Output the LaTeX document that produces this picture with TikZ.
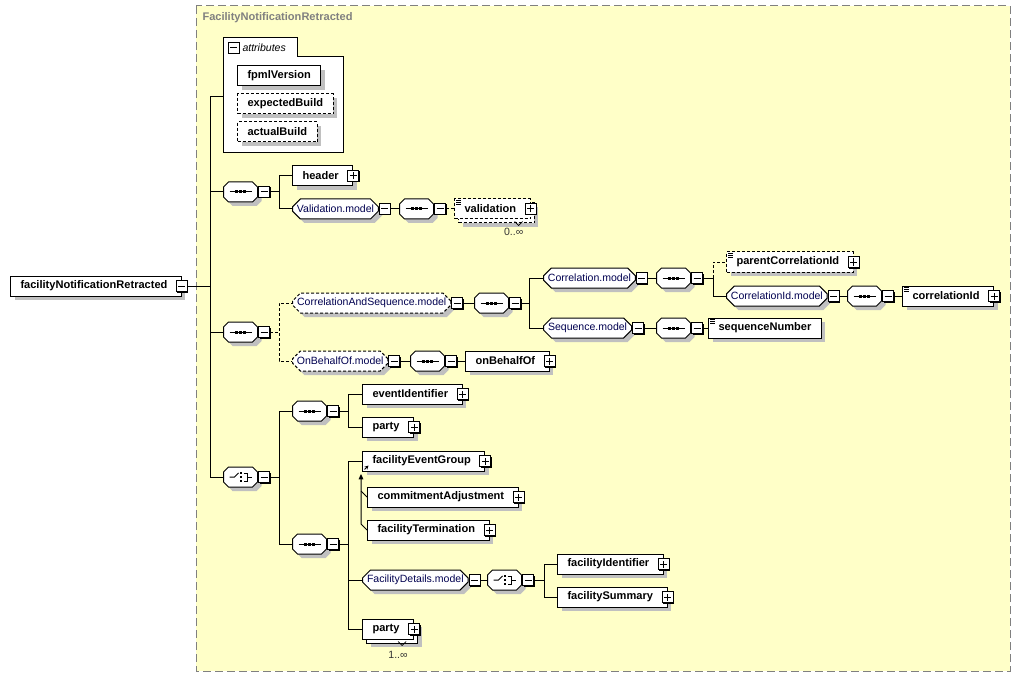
\documentclass[tikz,border=0pt]{standalone}
\usepackage{fontspec}
\setmainfont{Liberation Sans}
\usetikzlibrary{shapes.misc,shadows,arrows.meta}

\definecolor{paneyellow}{RGB}{255,255,200}
\definecolor{framegray}{RGB}{128,128,128}
\definecolor{modelblue}{RGB}{0,0,80}
\definecolor{shadowgray}{RGB}{192,192,192}

\tikzset{
  elem/.style={draw, fill=white, anchor=west, inner xsep=7.5pt, inner ysep=0pt,
    minimum height=15pt, font=\fontsize{8.3}{10}\selectfont\bfseries,
    general shadow={fill=shadowgray, shadow xshift=3pt, shadow yshift=-3pt}},
  opt/.style={dash pattern=on 2.25pt off 1.5pt},
  expand/.style={execute at end node=\hspace{3pt}},
  model/.style={chamfered rectangle, chamfered rectangle xsep=3pt, chamfered rectangle ysep=3pt,
    draw, fill=white, anchor=west, inner xsep=0.4pt, inner ysep=0pt, minimum height=15pt,
    text=modelblue, font=\fontsize{7.9}{10}\selectfont,
    general shadow={fill=shadowgray, shadow xshift=3pt, shadow yshift=-3pt}},
  compositor/.style={model, inner xsep=3.75pt, minimum width=25.5pt, chamfered rectangle xsep=5pt, chamfered rectangle ysep=5pt},
  multi/.style={general shadow={fill=shadowgray, shadow xshift=6pt, shadow yshift=-6pt},
    general shadow={draw, fill=white, shadow xshift=3pt, shadow yshift=-3pt}},
  signbox/.style={draw, fill=white, minimum size=8.25pt, inner sep=0pt,
    general shadow={fill=black, shadow xshift=0.75pt, shadow yshift=-0.75pt}},
  minusbox/.style={signbox, path picture={
    \draw ([xshift=1.5pt]path picture bounding box.west) -- ([xshift=-1.5pt]path picture bounding box.east);}},
  plusbox/.style={signbox, path picture={
    \draw ([xshift=1.5pt]path picture bounding box.west) -- ([xshift=-1.5pt]path picture bounding box.east)
          ([yshift=1.5pt]path picture bounding box.south) -- ([yshift=-1.5pt]path picture bounding box.north);}},
  occ/.style={font=\fontsize{7.9}{9}\selectfont, text=black!80, inner sep=0pt},
  optlink/.style={dash pattern=on 2.25pt off 1.5pt},
}

\begin{document}
\begin{tikzpicture}[x=0.75pt, y=-0.75pt, line width=0.75pt]
\useasboundingbox (0,0) rectangle (1020,677);

\draw[framegray, fill=paneyellow, dash pattern=on 6pt off 3pt] (196,6) rectangle (1010,671);
\node[anchor=west, inner sep=0pt, text=framegray, font=\fontsize{8.3}{10}\selectfont\bfseries] (typename) at (202,18) {FacilityNotificationRetracted};

\draw[fill=white] (223,153) -- (223,38) -- (297,38) -- (297,57) -- (343,57) -- (343,153) -- cycle;
\node[minusbox] (attrtab-m) at (233.5,48) {};
\node[anchor=west, inner sep=0pt, font=\fontsize{7.9}{10}\selectfont\itshape] (attrlabel) at (242,48) {attributes};
\coordinate (attin) at (223,97);
\node[elem] (fpml) at (237,76) {fpmlVersion};
\node[elem, opt] (expbuild) at (237,104) {expectedBuild};
\node[elem, opt] (actbuild) at (237,132) {actualBuild};

\node[elem, expand] (root) at (10,286) {facilityNotificationRetracted};
\node[minusbox] (root-m) at (root.east) {};

\node[compositor] (hdrseq) at (223,192) {};
\node[compositor] (idseq) at (223,332) {};
\node[compositor] (evtchoice) at (223,477) {};

\node[elem, expand] (header) at (292,176) {header};
\node[model] (valmodel) at (292,209) {Validation.model};
\node[compositor] (valseq) at (399,209) {};
\node[elem, opt, expand, multi] (validation) at (454,209) {validation};

\node[model, opt] (corrseqmodel) at (292,303) {CorrelationAndSequence.model};
\node[compositor] (corrseqseq) at (474,303) {};
\node[model] (corrmodel) at (543,278) {Correlation.model};
\node[compositor] (corrseq) at (656,278) {};
\node[elem, opt, expand] (parentcorr) at (726,262) {parentCorrelationId};
\node[model] (corridmodel) at (726,296) {CorrelationId.model};
\node[compositor] (corridseq) at (847,296) {};
\node[elem, expand] (corrid) at (902,296) {correlationId};
\node[model] (seqmodel) at (543,328) {Sequence.model};
\node[compositor] (seqseq) at (656,328) {};
\node[elem] (seqnum) at (708,328) {sequenceNumber};

\node[model, opt] (behalfmodel) at (292,361) {OnBehalfOf.model};
\node[compositor] (behalfseq) at (410,361) {};
\node[elem, expand] (behalf) at (465,361) {onBehalfOf};

\node[compositor] (evtseq) at (292,411) {};
\node[compositor] (detseq) at (292,544) {};
\node[elem, expand] (eventid) at (362,394) {eventIdentifier};
\node[elem, expand] (party) at (362,427) {party};
\node[elem, expand] (evgroup) at (362,461) {facilityEventGroup};
\node[elem, expand] (commit) at (367,497) {commitmentAdjustment};
\node[elem, expand] (term) at (367,530) {facilityTermination};
\node[model] (detmodel) at (362,580) {FacilityDetails.model};
\node[compositor] (detchoice) at (487,580) {};
\node[elem, expand] (facid) at (557,564) {facilityIdentifier};
\node[elem, expand] (facsum) at (557,597) {facilitySummary};
\node[elem, expand, multi] (party2) at (362,629) {party};

\foreach \n in {hdrseq,idseq,evtchoice,valmodel,valseq,corrseqmodel,corrseqseq,corrmodel,corrseq,corridmodel,corridseq,seqmodel,seqseq,behalfmodel,behalfseq,evtseq,detseq,detmodel,detchoice}
  \node[minusbox, anchor=west] (\n-m) at (\n.east) {};
\foreach \n in {header,validation,parentcorr,corrid,behalf,eventid,party,evgroup,commit,term,facid,facsum,party2}
  \node[plusbox] (\n-p) at (\n.east) {};

\foreach \n in {hdrseq,idseq,valseq,corrseqseq,corrseq,corridseq,seqseq,behalfseq,evtseq,detseq} {
  \draw ([xshift=-8.25pt]\n.center) -- ([xshift=8.25pt]\n.center);
  \foreach \d in {-4,0,4} \fill ([shift={(\d-1.5,-1.5)}]\n.center) rectangle ++(3,3);
}
\foreach \n in {evtchoice,detchoice} {
  \draw ([shift={(-11,0)}]\n.center) -- ++(5,0) -- ++(4,-4);
  \foreach \d in {-4,0,4} \fill ([shift={(-1,\d-1.25)}]\n.center) rectangle ++(2.5,2.5);
  \draw ([shift={(3,-4)}]\n.center) -- ++(4,0) -- ++(0,8) -- ++(-4,0) ([shift={(7,0)}]\n.center) -- ++(4,0);
}
\foreach \n in {validation,parentcorr,corrid,seqnum}
  \foreach \k in {1.5,3.5,5.5} \draw[line width=0.5pt] ([shift={(2,\k)}]\n.north west) -- ++(5,0);

\foreach \c in {attin,hdrseq.west,idseq.west,evtchoice.west}
  \draw (root-m.east) -- ++(22.5,0) |- (\c);
\foreach \c in {header,valmodel}
  \draw (hdrseq-m.east) -- ++(9,0) |- (\c.west);
\draw (valmodel-m.east) -- (valseq.west);
\draw[optlink] (valseq-m.east) -- (validation.west);
\foreach \c in {corrseqmodel,behalfmodel}
  \draw[optlink] (idseq-m.east) -- ++(9,0) |- (\c.west);
\draw (corrseqmodel-m.east) -- (corrseqseq.west);
\foreach \c in {corrmodel,seqmodel}
  \draw (corrseqseq-m.east) -- ++(8,0) |- (\c.west);
\draw (corrmodel-m.east) -- (corrseq.west);
\draw[optlink] (corrseq-m.east) -- ++(10,0) |- (parentcorr.west);
\draw (corrseq-m.east) -- ++(10,0) |- (corridmodel.west);
\draw (corridmodel-m.east) -- (corridseq.west);
\draw (corridseq-m.east) -- (corrid.west);
\draw (seqmodel-m.east) -- (seqseq.west);
\draw (seqseq-m.east) -- (seqnum.west);
\draw (behalfmodel-m.east) -- (behalfseq.west);
\draw (behalfseq-m.east) -- (behalf.west);
\foreach \c in {evtseq,detseq}
  \draw (evtchoice-m.east) -- ++(9,0) |- (\c.west);
\foreach \c in {eventid,party}
  \draw (evtseq-m.east) -- ++(9,0) |- (\c.west);
\foreach \c in {evgroup,detmodel,party2}
  \draw (detseq-m.east) -- ++(9,0) |- (\c.west);
\draw (detmodel-m.east) -- (detchoice.west);
\foreach \c in {facid,facsum}
  \draw (detchoice-m.east) -- ++(10,0) |- (\c.west);

\draw[-{Stealth[length=3pt,width=3pt]}] ([shift={(2.5,-2)}]evgroup.south west) -- ++(4,-4);
\draw (commit.west) -- ++(-6,-6);
\draw[-{Triangle[length=4pt,width=3.5pt]}] (term.west) -- ++(-6,-6) -- ++(0,-50);

\node[occ] (valocc) at ([shift={(-17,12)}]validation.south east) {0..∞};
\node[occ] (party2occ) at ([shift={(-16,15)}]party2.south east) {1..∞};
\draw[line width=0.5pt] ([shift={(-16,2)}]validation.south east) -- ++(4,4) -- ++(4,-4);
\draw[line width=0.5pt] ([shift={(-16,2)}]party2.south east) -- ++(4,4) -- ++(4,-4);
\end{tikzpicture}
\end{document}
